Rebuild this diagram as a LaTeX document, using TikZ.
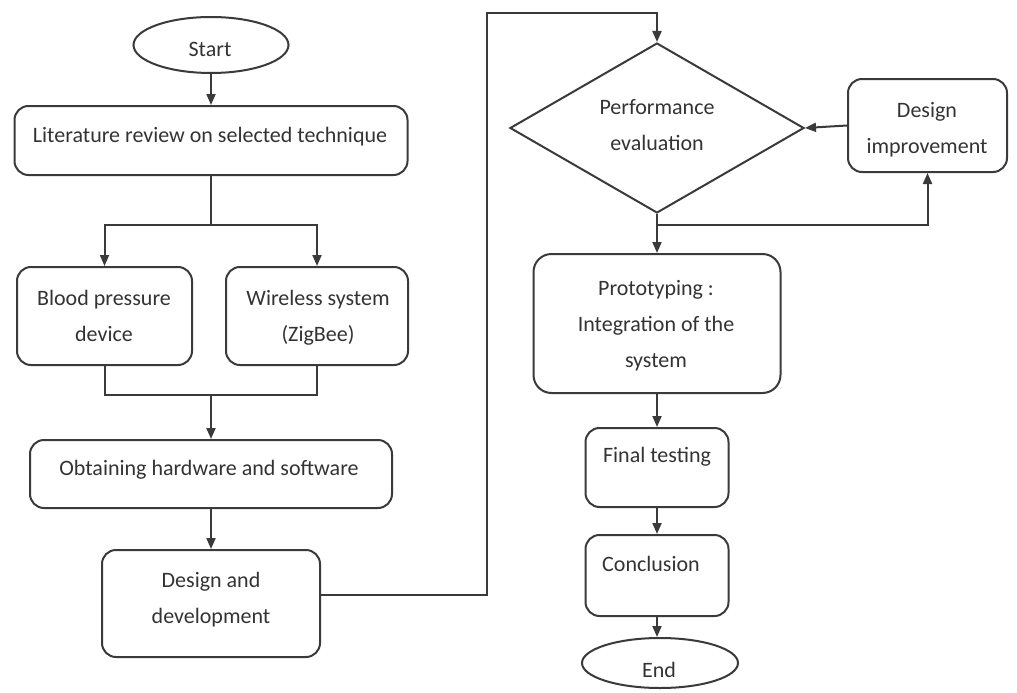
\documentclass[tikz,border=0pt]{standalone}
\usepackage{fontspec}
\setmainfont{Carlito}
\usetikzlibrary{shapes.geometric,arrows.meta}
\definecolor{linec}{HTML}{3A3A3A}
\definecolor{textc}{HTML}{333333}
\tikzset{
  stepbox/.style={draw=linec, line width=2pt, rounded corners=14pt, inner sep=0pt},
  oval/.style={draw=linec, line width=2pt, ellipse, inner sep=0pt},
  decision/.style={draw=linec, line width=2pt, diamond, inner sep=0pt},
  lbl/.style={text=textc, align=center, inner sep=0pt, anchor=base, font=\fontsize{22}{36}\selectfont},
  conn/.style={draw=linec, line width=2pt},
  arr/.style={conn, -{Triangle[length=11pt,width=9pt]}}
}
\begin{document}
\begin{tikzpicture}[x=1pt,y=-1pt]
\useasboundingbox (0,0) rectangle (1017,693);
% shapes
\node[oval, minimum width=155pt, minimum height=56pt] (start) at (211,45) {};
\node[stepbox, minimum width=393pt, minimum height=69pt] (lit) at (211,140.5) {};
\node[stepbox, minimum width=175pt, minimum height=98pt] (blood) at (104.5,316) {};
\node[stepbox, minimum width=182pt, minimum height=98pt] (wire) at (317,316) {};
\node[stepbox, minimum width=362pt, minimum height=68pt] (obt) at (211,474) {};
\node[stepbox, minimum width=218pt, minimum height=107pt] (des) at (211,603.5) {};
\node[decision, minimum width=294pt, minimum height=170pt] (perf) at (657,128) {};
\node[stepbox, minimum width=159pt, minimum height=93pt] (imp) at (927.5,125.5) {};
\node[stepbox, minimum width=247pt, minimum height=139pt, rounded corners=18pt] (proto) at (657,323.5) {};
\node[stepbox, minimum width=143pt, minimum height=79pt] (final) at (657,467.5) {};
\node[stepbox, minimum width=143pt, minimum height=81pt] (concl) at (657,575.5) {};
\node[oval, minimum width=156pt, minimum height=50pt] (end) at (660,663) {};
% labels (anchor base = baseline of the last line)
\node[lbl] (tstart) at (210,57) {Start};
\node[lbl] (tlit) at (210,142) {Literature review on selected technique};
\node[lbl] (tblood) at (104,341) {Blood pressure\\device};
\node[lbl] (twire) at (318,341) {Wireless system\\(ZigBee)};
\node[lbl] (tobt) at (209,475) {Obtaining hardware and software};
\node[lbl] (tdes) at (211,623) {Design and\\development};
\node[lbl] (tperf) at (657,150) {Performance\\evaluation};
\node[lbl] (timp) at (927,153) {Design\\improvement};
\node[lbl] (tproto) at (656,367) {Prototyping :\\Integration of the\\system};
\node[lbl] (tfinal) at (657,462) {Final testing};
\node[lbl] (tconcl) at (651,571) {Conclusion};
\node[lbl] (tend) at (659,677) {End};
% coordinates
\coordinate (b1) at (211,225);
\coordinate (m1) at (211,395);
\coordinate (c1) at (487,13);
\coordinate (p1) at (657,225);
% connectors
\draw[arr] (start.south) -- (lit.north);
\draw[conn] (lit.south) -- (b1);
\draw[arr] (b1) -| (blood.north);
\draw[arr] (b1) -| (wire.north);
\draw[conn] (blood.south) |- (m1);
\draw[conn] (wire.south) |- (m1);
\draw[arr] (m1) -- (obt.north);
\draw[arr] (obt.south) -- (des.north);
\draw[arr] ([yshift=9pt]des.east) -| (c1) -| (perf.north);
\draw[arr] (imp.west) -- (perf.east);
\draw[conn] (perf.south) -- (p1);
\draw[arr] (p1) -| (imp.south);
\draw[arr] (p1) -- (proto.north);
\draw[arr] (proto.south) -- (final.north);
\draw[arr] (final.south) -- (concl.north);
\draw[arr] (concl.south) -- (concl.south |- end.north);
\end{tikzpicture}
\end{document}
